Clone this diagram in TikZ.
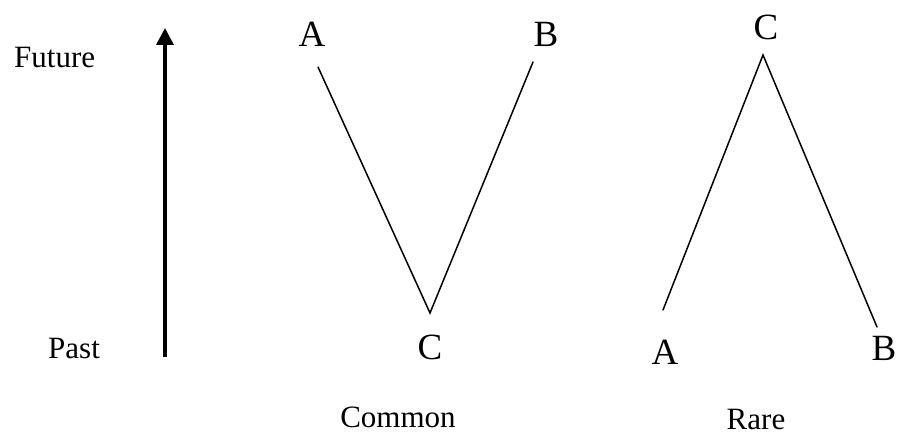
\documentclass[tikz,border=0pt]{standalone}
\usepackage{fontspec}
\setmainfont{Liberation Serif}
\usetikzlibrary{arrows.meta}
\tikzset{
  letter/.style={inner sep=0pt, anchor=base, font=\fontsize{37}{40}\selectfont},
  label/.style={inner sep=0pt, font=\fontsize{31}{34}\selectfont},
  edge/.style={line width=1.5pt, line cap=round},
  timearrow/.style={line width=3.5pt, -{Triangle[length=17pt,width=17pt]}}
}
\begin{document}
\begin{tikzpicture}[x=1pt,y=-1pt]
\useasboundingbox (0,0) rectangle (897,435);
% time axis
\node[label, anchor=base west] (future) at (14,68) {Future};
\node[label, anchor=base west] (past) at (48,359) {Past};
\coordinate (tbot) at (165,357);
\coordinate (ttop) at (165,28);
\draw[timearrow] (tbot) -- (ttop);
% common
\node[letter] (A1) at (312,47) {A};
\node[letter] (B1) at (546,47) {B};
\node[letter] (C1) at (430,360) {C};
\coordinate (a1) at (318,67);
\coordinate (c1) at (430,313);
\coordinate (b1) at (533,62);
\draw[edge] (a1) -- (c1) -- (b1);
\node[label, anchor=base] (common) at (398,428) {Common};
% rare
\node[letter] (C2) at (766,40) {C};
\node[letter] (A2) at (665,365) {A};
\node[letter] (B2) at (884,361) {B};
\coordinate (a2) at (663,310);
\coordinate (c2) at (763,55);
\coordinate (b2) at (877,327);
\draw[edge] (a2) -- (c2) -- (b2);
\node[label, anchor=base] (rare) at (756,429) {Rare};
\end{tikzpicture}
\end{document}
